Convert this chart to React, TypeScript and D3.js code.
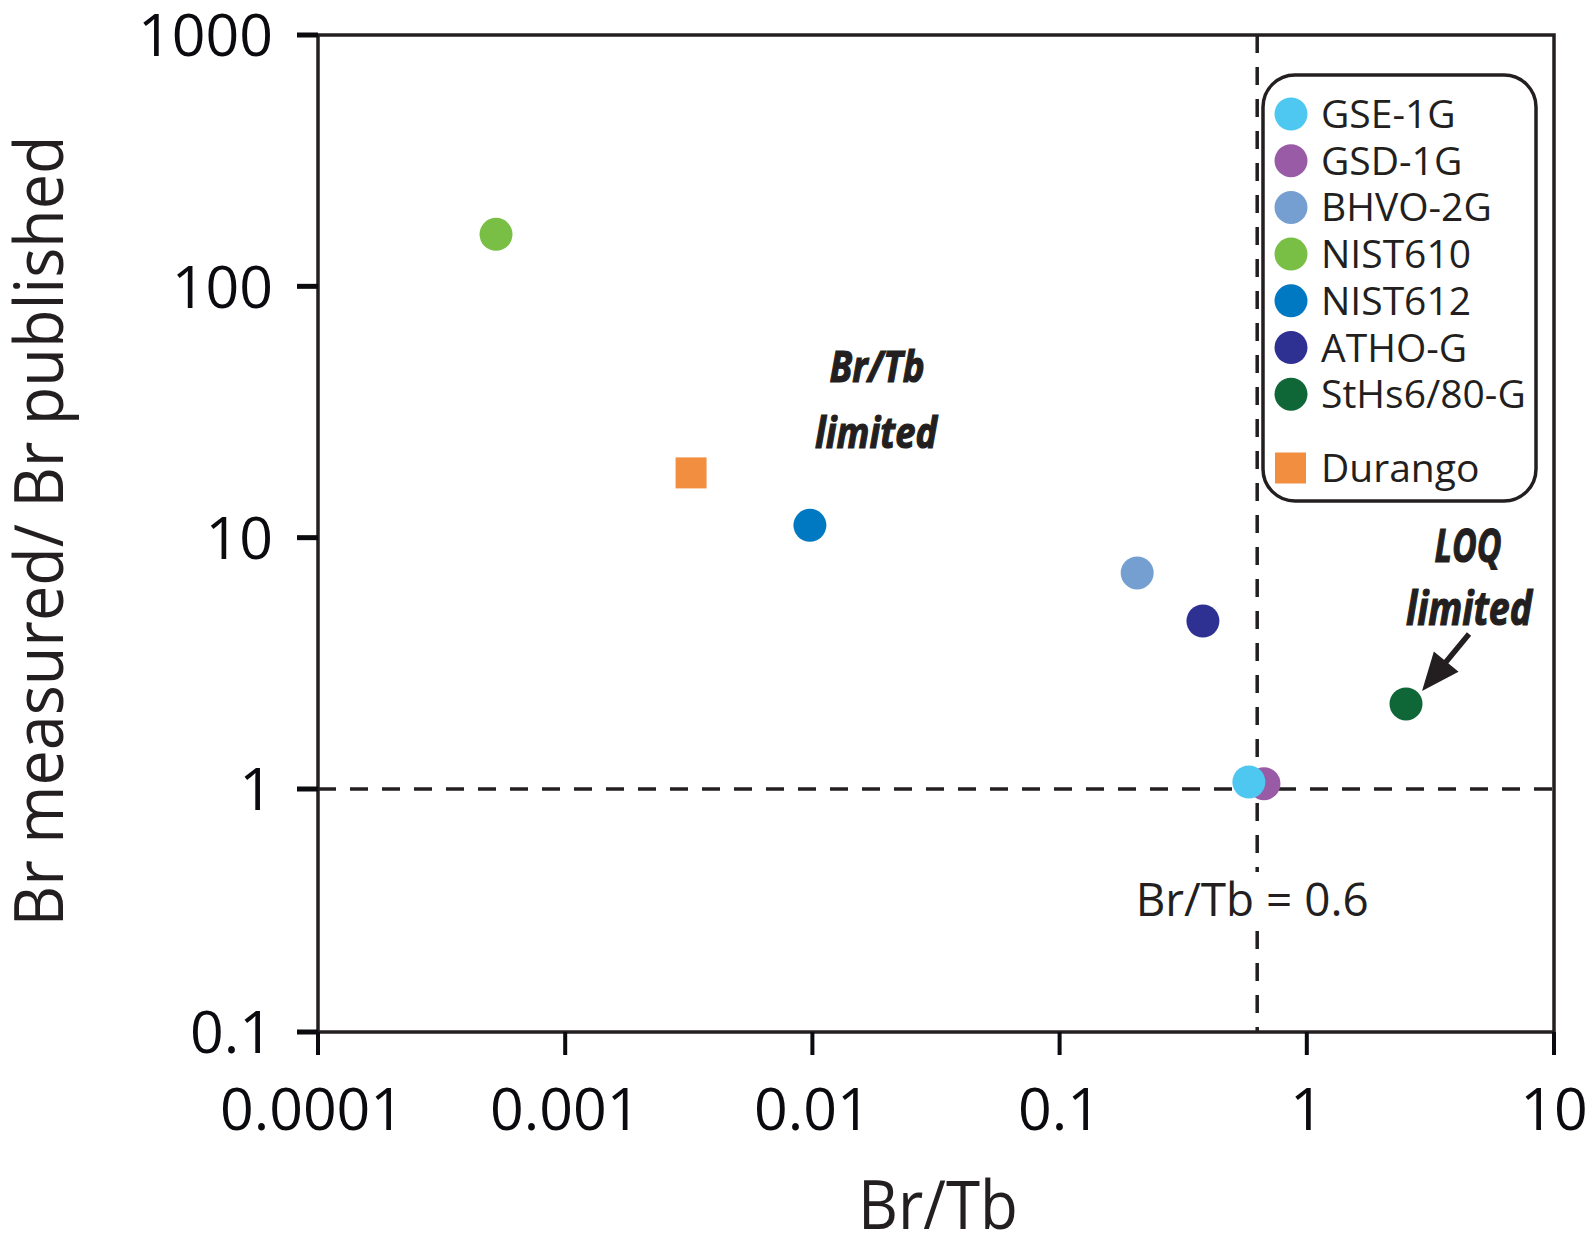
import React from "react";
import * as d3 from "d3";

// Br/Tb ratio vs measured/published Br for reference glasses
const samples = ["GSE-1G", "GSD-1G", "BHVO-2G", "NIST610", "NIST612", "ATHO-G", "StHs6/80-G", "Durango"];
const brTb = [0.583, 0.671, 0.206, 0.000525, 0.00977, 0.38, 2.52, 0.00323];
const brRatio = [1.066, 1.05, 7.24, 161, 11.2, 4.66, 2.18, 18.1];
const colors = ["#4FC8F1", "#9A5BA6", "#769FD1", "#79BF45", "#0079C2", "#2E3192", "#0F6637", "#F18E40"];
const shapes = ["circle", "circle", "circle", "circle", "circle", "circle", "circle", "square"];

const xTicks = [0.0001, 0.001, 0.01, 0.1, 1, 10];
const xTickLabels = ["0.0001", "0.001", "0.01", "0.1", "1", "10"];
const yTicks = [0.1, 1, 10, 100, 1000];
const yTickLabels = ["0.1", "1", "10", "100", "1000"];

const brTbLimit = 0.63; // where the dashed line sits in the figure
const font = "'Open Sans', 'DejaVu Sans', sans-serif";

export default function App() {
  const left = 318, right = 1554, top = 35, bottom = 1032;
  const x = d3.scaleLog().domain([1e-4, 10]).range([left, right]);
  // figure's lowest decade is slightly squeezed, so piecewise log
  const y = d3.scaleLog().domain([0.1, 1, 1000]).range([bottom, 789, top]);

  const r = 16.5;
  const sq = 31;

  // draw order: reversed so GSE sits on top of GSD
  const order = samples.map((d, i) => i).reverse();

  // legend
  const legX = 1263, legY = 75, legW = 273, legH = 426;
  const rowY = (i) => (i < 7 ? 114 + i * 46.7 : 468);

  // LOQ arrow, relative to StHs point
  const sx = x(brTb[6]), sy = y(brRatio[6]);
  const tip = [sx + 16, sy - 13];
  const tail = [sx + 63, sy - 70];
  const ang = Math.atan2(tip[1] - tail[1], tip[0] - tail[0]);
  const headL = 38, headW = 16;
  const baseX = tip[0] - headL * Math.cos(ang), baseY = tip[1] - headL * Math.sin(ang);
  const head = [
    tip,
    [baseX + headW * Math.sin(ang), baseY - headW * Math.cos(ang)],
    [baseX - headW * Math.sin(ang), baseY + headW * Math.cos(ang)],
  ];

  const limX = x(brTbLimit);

  return (
    <svg width={1587} height={1237} style={{ position: "absolute", left: 0, top: 0, background: "#fff" }} fontFamily={font}>
      <rect width={1587} height={1237} fill="#fff" />

      {/* dashed reference lines */}
      <line x1={left} x2={right} y1={y(1)} y2={y(1)} stroke="#231F20" strokeWidth={3.5} strokeDasharray="18 14" />
      <line x1={limX} x2={limX} y1={top} y2={bottom} stroke="#231F20" strokeWidth={3.5} strokeDasharray="18 14" />

      {/* label with a white gap behind it */}
      <rect x={limX - 124} y={872} width={242} height={56} fill="#fff" />
      <text x={limX - 5} y={916} textAnchor="middle" fontSize={45} fill="#231F20" textLength={233} lengthAdjust="spacingAndGlyphs">
        Br/Tb = 0.6
      </text>

      {/* frame */}
      <rect x={left} y={top} width={right - left} height={bottom - top} fill="none" stroke="#231F20" strokeWidth={3.5} />

      {/* y ticks */}
      {yTicks.map((t, i) => (
        <g key={"y" + t}>
          <line x1={left - 21} x2={left} y1={y(t)} y2={y(t)} stroke="#0a0a0f" strokeWidth={5} />
          <text x={273} y={y(t)} dy="0.36em" textAnchor="end" fontSize={59} fill="#0a0a0f">
            {yTickLabels[i]}
          </text>
        </g>
      ))}

      {/* x ticks */}
      {xTicks.map((t, i) => (
        <g key={"x" + t}>
          <line x1={x(t)} x2={x(t)} y1={bottom} y2={bottom + 23} stroke="#0a0a0f" strokeWidth={4} />
          <text x={x(t) - (i === 0 ? 6 : 0)} y={1130} textAnchor="middle" fontSize={59} fill="#0a0a0f">
            {xTickLabels[i]}
          </text>
        </g>
      ))}

      {/* axis titles */}
      <text x={938} y={1229} textAnchor="middle" fontSize={67} fill="#231F20" textLength={160} lengthAdjust="spacingAndGlyphs">
        Br/Tb
      </text>
      <text
        transform={`translate(63,531) rotate(-90)`}
        textAnchor="middle"
        fontSize={68}
        fill="#231F20"
        textLength={791}
        lengthAdjust="spacingAndGlyphs"
      >
        Br measured/ Br published
      </text>

      {/* points */}
      {order.map((i) =>
        shapes[i] === "square" ? (
          <rect key={samples[i]} x={x(brTb[i]) - sq / 2} y={y(brRatio[i]) - sq / 2} width={sq} height={sq} fill={colors[i]} />
        ) : (
          <circle key={samples[i]} cx={x(brTb[i])} cy={y(brRatio[i])} r={r} fill={colors[i]} />
        )
      )}

      {/* annotations */}
      <g fontWeight={700} fontStyle="italic" fill="#231F20" stroke="#231F20" strokeWidth={1.2}>
        <text x={877} y={382} textAnchor="middle" fontSize={43} textLength={95} lengthAdjust="spacingAndGlyphs">
          Br/Tb
        </text>
        <text x={876} y={448} textAnchor="middle" fontSize={43} textLength={122} lengthAdjust="spacingAndGlyphs">
          limited
        </text>
        <text x={1468} y={562} textAnchor="middle" fontSize={46} textLength={67} lengthAdjust="spacingAndGlyphs">
          LOQ
        </text>
        <text x={1469} y={625} textAnchor="middle" fontSize={46} textLength={126} lengthAdjust="spacingAndGlyphs">
          limited
        </text>
      </g>
      <line x1={tail[0]} y1={tail[1]} x2={baseX + 4 * Math.cos(ang)} y2={baseY + 4 * Math.sin(ang)} stroke="#231F20" strokeWidth={5.5} />
      <polygon points={head.map((p) => p.join(",")).join(" ")} fill="#231F20" />

      {/* legend */}
      <rect x={legX} y={legY} width={legW} height={legH} rx={32} fill="#fff" stroke="#231F20" strokeWidth={3.5} />
      {samples.map((s, i) => (
        <g key={"leg" + s}>
          {shapes[i] === "square" ? (
            <rect x={1275} y={rowY(i) - 15.5} width={31} height={31} fill={colors[i]} />
          ) : (
            <circle cx={1291} cy={rowY(i)} r={16.5} fill={colors[i]} />
          )}
          <text x={1321} y={rowY(i)} dy="0.36em" fontSize={39} fill="#231F20">
            {s}
          </text>
        </g>
      ))}
    </svg>
  );
}
